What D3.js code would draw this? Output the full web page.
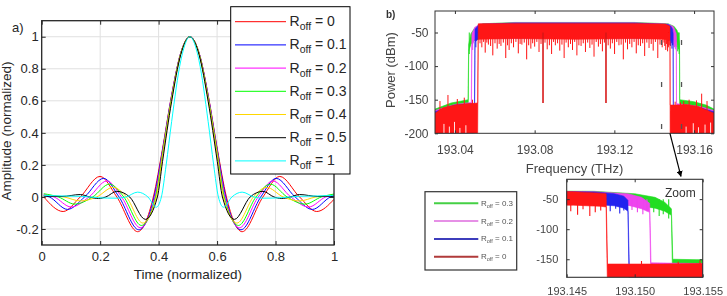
<!DOCTYPE html>
<html>
<head>
<meta charset="utf-8">
<script src="https://cdn.jsdelivr.net/npm/d3@7"></script>
<style>
  body { margin: 0; background: #fff; }
  svg  { display: block; font-family: "Liberation Sans", Arial, Helvetica, sans-serif; }
</style>
</head>
<body>
<svg id="fig" width="727" height="296"></svg>
<script>
// Panel a: pulse shapes for several roll-off factors (key points).
// Panel b: optical spectrum for 4 roll-offs, plus a zoom on the right band edge.

// ── Panel a data ─────────────────────────────────────────────────────────────

const PULSE_LABELS = ["0", "0.1", "0.2", "0.3", "0.4", "0.5", "1"];
const PULSE_COLORS = ["#ff0000", "#0000ff", "#ff00ff", "#00ff00", "#ffd700", "#000000", "#00ffff"];

// [time, amplitude]
const PULSE_R0 = [[.007,0],[.0733,-.091],[.132,0],[.1995,.128],[.257,0],[.3283,-.217],[.382,0],[.4133,.300],[.4445,.637],[.4758,.900],[.507,1],[.5383,.900],[.5695,.637],[.6008,.300],[.632,0],[.6858,-.217],[.757,0],[.8145,.128],[.882,0],[.9408,-.091],[1.0,-.015]];
const PULSE_R01 = [[.007,.01],[.0258,0],[.0883,-.078],[.147,0],[.212,.116],[.2645,0],[.332,-.205],[.3845,0],[.4133,.29],[.4445,.632],[.4758,.899],[.507,1],[.5383,.899],[.5695,.632],[.6008,.29],[.6295,0],[.682,-.205],[.7495,0],[.802,.116],[.867,0],[.9258,-.078],[.9883,0],[1.0,.008]];
const PULSE_R02 = [[.007,.015],[.042,0],[.1008,-.063],[.162,0],[.2233,.100],[.2733,0],[.337,-.192],[.387,0],[.4133,.28],[.4445,.627],[.4758,.897],[.507,1],[.5383,.897],[.5695,.627],[.6008,.28],[.627,0],[.677,-.192],[.7408,0],[.7908,.100],[.852,0],[.9133,-.063],[.972,0],[1.0,.013]];
const PULSE_R03 = [[.007,.02],[.057,0],[.1133,-.045],[.1745,0],[.232,.080],[.2808,0],[.3408,-.178],[.3895,0],[.4133,.27],[.4445,.62],[.4758,.895],[.507,1],[.5383,.895],[.5695,.62],[.6008,.27],[.6245,0],[.6733,-.178],[.7333,0],[.782,.080],[.8395,0],[.9008,-.045],[.957,0],[1.0,.018]];
const PULSE_R04 = [[.007,.01],[.0758,0],[.132,-.025],[.1883,0],[.2445,.060],[.2895,0],[.3458,-.163],[.392,0],[.4133,.255],[.4445,.612],[.4758,.893],[.507,1],[.5383,.893],[.5695,.612],[.6008,.255],[.622,0],[.6683,-.163],[.7245,0],[.7695,.060],[.8258,0],[.882,-.025],[.9383,0],[1.0,.01]];
const PULSE_R05 = [[.007,.005],[.0695,.003],[.132,.015],[.1633,0],[.1945,-.010],[.2195,0],[.257,.035],[.3008,0],[.3545,-.140],[.3958,0],[.4133,.22],[.4445,.596],[.4758,.888],[.507,1],[.5383,.888],[.5695,.596],[.6008,.22],[.6183,0],[.6595,-.140],[.7133,0],[.757,.035],[.7945,0],[.8195,-.010],[.8508,0],[.882,.015],[.9445,.003],[1.0,.005]];
const PULSE_R1 = [[.007,.01],[.0695,.006],[.132,.004],[.1945,-.005],[.257,-.008],[.2883,0],[.3283,.030],[.3633,0],[.392,-.064],[.4095,0],[.4258,.20],[.4445,.47],[.4758,.85],[.507,1],[.5383,.85],[.5695,.47],[.5883,.20],[.6045,0],[.622,-.064],[.6508,0],[.6858,.030],[.7258,0],[.757,-.008],[.8195,-.005],[.882,.004],[.9445,.006],[1.0,.01]];
const PULSES = [PULSE_R0, PULSE_R01, PULSE_R02, PULSE_R03, PULSE_R04, PULSE_R05, PULSE_R1];

const PULSE_X_TICKS = [0, 0.2, 0.4, 0.6, 0.8, 1];
const PULSE_Y_TICKS = [-0.2, 0, 0.2, 0.4, 0.6, 0.8, 1];

// ── Panel b data ─────────────────────────────────────────────────────────────

const SPEC_LABELS        = ["0.3", "0.2", "0.1", "0"];
const SPEC_COLORS        = ["#22dd22", "#ee44ee", "#2424ee", "#ff1414"];
const SPEC_LEGEND_COLORS = ["#44d044", "#e690e6", "#3c3cbc", "#b03a3a"];

// [freq THz, upper dBm, lower dBm]
const ENV_G = [[193.030,-164,-200],[193.038,-155,-200],[193.0466,-150,-200],[193.0469,-68,-78],[193.0480,-52,-68],[193.050,-43,-61],[193.054,-37,-58],[193.070,-35,-58],[193.130,-35,-58],[193.147,-37,-58],[193.150,-41,-60],[193.1515,-47,-65],[193.1522,-55,-70],[193.1527,-66,-77],[193.1528,-150,-200],[193.160,-153,-200],[193.166,-158,-200],[193.170,-164,-200]];
const ENV_M = [[193.030,-166,-200],[193.040,-157,-200],[193.0482,-154,-200],[193.0485,-52,-70],[193.0500,-42,-60],[193.053,-37.5,-58],[193.070,-35.5,-58],[193.130,-35.5,-58],[193.147,-37.5,-58],[193.1495,-41,-60],[193.1505,-47,-66],[193.1511,-57,-72],[193.1512,-156,-200],[193.158,-158,-200],[193.164,-161,-200],[193.170,-166,-200]];
const ENV_B = [[193.030,-168,-200],[193.040,-158,-200],[193.0498,-156,-200],[193.0501,-45,-64],[193.052,-38,-59],[193.070,-36,-58],[193.130,-36,-58],[193.147,-38,-59],[193.1485,-41,-61],[193.1492,-45,-65],[193.1495,-52,-70],[193.1496,-159,-200],[193.156,-159,-200],[193.163,-162,-200],[193.170,-168,-200]];
const ENV_R = [[193.030,-170,-200],[193.034,-162,-200],[193.040,-158,-200],[193.046,-156,-200],[193.0514,-155,-200],[193.0517,-37,-60],[193.070,-36.5,-59],[193.100,-36.5,-60],[193.130,-36.5,-59],[193.1455,-37.5,-60],[193.1475,-40,-62],[193.1479,-41,-63],[193.1480,-158,-200],[193.152,-158,-200],[193.156,-157,-200],[193.162,-160,-200],[193.170,-170,-200]];
const SPEC_ENVELOPES = [ENV_G, ENV_M, ENV_B, ENV_R];

// downward noise spikes inside the band: [freq, dBm]
const SPIKES_G = [[193.0472,-82],[193.1514,-72],[193.1518,-78],[193.1521,-75],[193.1525,-82]];
const SPIKES_M = [[193.0489,-76],[193.1498,-68],[193.1502,-72],[193.1506,-75],[193.1509,-70]];
const SPIKES_B = [[193.0505,-72],[193.1482,-70],[193.1486,-66],[193.1489,-74],[193.1492,-69]];
const SPIKES_R = [
  [193.0526,-66],[193.0535,-72],[193.0544,-64],[193.0552,-80],[193.0560,-65],[193.0568,-68],[193.0579,-70],[193.0590,-84],
  [193.0601,-66],[193.0612,-74],[193.0622,-67],[193.0631,-70],[193.0643,-65],[193.0655,-88],[193.0664,-69],[193.0672,-76],
  [193.0683,-66],[193.0694,-72],[193.0706,-64],[193.0718,-81],[193.0727,-67],[193.0736,-68],[193.0748,-65],[193.0760,-90],
  [193.0770,-69],[193.0781,-74],[193.0790,-66],[193.0800,-71],[193.0811,-64],[193.0822,-79],[193.0832,-67],[193.0852,-65],
  [193.0863,-75],[193.0874,-69],[193.0885,-82],[193.0895,-64],[193.0904,-69],[193.0915,-66],[193.0926,-77],[193.0937,-68],
  [193.0948,-88],[193.0958,-65],[193.0969,-72],[193.0980,-67],[193.0990,-76],[193.1001,-64],[193.1012,-84],[193.1022,-69],
  [193.1033,-70],[193.1044,-66],[193.1055,-79],[193.1066,-65],[193.1077,-73],[193.1088,-68],[193.1098,-86],[193.1109,-64],
  [193.1120,-71],[193.1130,-67],[193.1140,-78],[193.1150,-65],[193.1169,-69],[193.1180,-74],[193.1190,-66],[193.1201,-82],
  [193.1212,-64],[193.1223,-69],[193.1234,-68],[193.1245,-90],[193.1256,-65],[193.1266,-75],[193.1277,-67],[193.1288,-72],
  [193.1299,-64],[193.1310,-81],[193.1320,-69],[193.1331,-70],[193.1342,-66],[193.1352,-85],[193.1363,-65],[193.1374,-73],
  [193.1385,-67],[193.1395,-77],[193.1406,-64],[193.1418,-88],[193.1429,-68],[193.1440,-72],[193.1449,-65],[193.1453,-70],
  [193.1458,-76],[193.1462,-67],[193.1467,-78],[193.1471,-72],[193.1475,-69]];
const SPEC_SPIKES = [SPIKES_G, SPIKES_M, SPIKES_B, SPIKES_R];

const NOTCHES       = [[193.0842,-155],[193.1158,-155]];
const FLOOR_SPIKES  = [[193.0325,-152],[193.0365,-143],[193.0412,-149],[193.0447,-147],[193.0488,-150],[193.1505,-153],[193.1532,-154],[193.1548,-152],[193.1575,-150],[193.1612,-151],[193.1638,-141],[193.1665,-152]];
const FLOOR_GAPS    = [[193.0345,-186],[193.0372,-190],[193.0398,-183],[193.0425,-192],[193.0455,-188],[193.1560,-190],[193.1596,-185],[193.1622,-191],[193.1655,-187],[193.1683,-184]];
const ZOOM_MARKS    = [193.1437, 193.1537];

const SPEC_X_TICKS  = [193.04, 193.08, 193.12, 193.16];
const SPEC_Y_TICKS  = [-50, -100, -150, -200];
const ZOOM_X_TICKS  = [193.145, 193.150, 193.155];
const ZOOM_Y_TICKS  = [-50, -100, -150];

// ── Setup ────────────────────────────────────────────────────────────────────

const svg  = d3.select("#fig");
const defs = svg.append("defs");
const INK  = "#262626";
const FONT = '"Liberation Sans", Arial, Helvetica, sans-serif';

function clip(id, x0, y0, x1, y1) {
  defs.append("clipPath").attr("id", id).append("rect")
    .attr("x", x0).attr("y", y0).attr("width", x1 - x0).attr("height", y1 - y0);
}

function roff(text, value, subSize, dy) {
  text.append("tspan").text("R");
  text.append("tspan").attr("font-size", subSize).attr("dy", dy).text("off");
  text.append("tspan").attr("dy", -dy).text(` = ${value}`);
}

// inward ticks on all four sides, labels on bottom/left only
function boxAxes(g, x, y, o) {
  const [x0, x1] = x.range(), [y1, y0] = y.range();
  const style = ax => ax.call(a => a.select(".domain").remove())
    .attr("font-family", FONT).attr("font-size", o.size)
    .call(a => a.selectAll(".tick line").attr("stroke", o.ink))
    .call(a => a.selectAll(".tick text").attr("fill", o.text));

  g.append("g").attr("transform", `translate(0,${y1})`)
    .call(d3.axisBottom(x).tickValues(o.xt).tickSizeInner(-o.tick).tickSizeOuter(0).tickPadding(o.xpad).tickFormat(o.xf))
    .call(style);
  g.append("g").attr("transform", `translate(0,${y0})`)
    .call(d3.axisTop(x).tickValues(o.xt).tickSizeInner(-o.tick).tickSizeOuter(0).tickFormat(""))
    .call(style);
  g.append("g").attr("transform", `translate(${x0},0)`)
    .call(d3.axisLeft(y).tickValues(o.yt).tickSizeInner(-o.tick).tickSizeOuter(0).tickPadding(o.ypad).tickFormat(o.yf))
    .call(style);
  g.append("g").attr("transform", `translate(${x1},0)`)
    .call(d3.axisRight(y).tickValues(o.yt).tickSizeInner(-o.tick).tickSizeOuter(0).tickFormat(""))
    .call(style);
  g.append("rect").attr("x", x0).attr("y", y0).attr("width", x1 - x0).attr("height", y1 - y0)
    .attr("fill", "none").attr("stroke", o.ink).attr("stroke-width", o.box);
}

// ── Panel a ──────────────────────────────────────────────────────────────────

const xA = d3.scaleLinear().domain([0, 1]).range([41.7, 334]);
const yA = d3.scaleLinear().domain([-0.3, 1.1]).range([245, 20.7]);
clip("clipA", 41.7, 20.7, 334, 245);

const gA = svg.append("g");

gA.append("g").selectAll("line").data(PULSE_X_TICKS.slice(1, -1)).join("line")
  .attr("x1", d => xA(d)).attr("x2", d => xA(d)).attr("y1", yA.range()[0]).attr("y2", yA.range()[1])
  .attr("stroke", "#e0e0e0");
gA.append("g").selectAll("line").data(PULSE_Y_TICKS).join("line")
  .attr("x1", xA.range()[0]).attr("x2", xA.range()[1]).attr("y1", d => yA(d)).attr("y2", d => yA(d))
  .attr("stroke", "#e0e0e0");

const lineA = d3.line().x(d => xA(d[0])).y(d => yA(d[1])).curve(d3.curveMonotoneX);
gA.append("g").attr("clip-path", "url(#clipA)")
  .selectAll("path").data(PULSES).join("path")
  .attr("d", lineA).attr("fill", "none")
  .attr("stroke", (d, i) => PULSE_COLORS[i]).attr("stroke-width", 1);

boxAxes(gA, xA, yA, {
  xt: PULSE_X_TICKS, yt: PULSE_Y_TICKS, xf: d => String(d), yf: d => String(d),
  size: 13, tick: 4, xpad: 7, ypad: 3, ink: INK, text: INK, box: 1.3,
});

gA.append("text").attr("x", xA(0.5)).attr("y", 279).attr("text-anchor", "middle")
  .attr("font-size", 13.5).attr("fill", INK).text("Time (normalized)");
gA.append("text").attr("transform", "translate(11,131) rotate(-90)").attr("text-anchor", "middle")
  .attr("font-size", 13.5).attr("fill", INK).text("Amplitude (normalized)");
gA.append("text").attr("x", 12).attr("y", 32).attr("font-size", 13).attr("fill", INK).text("a)");

// legend
const legA = gA.append("g");
legA.append("rect").attr("x", 230.7).attr("y", 6.7).attr("width", 119.3).attr("height", 167.3)
  .attr("fill", "#fff").attr("stroke", "#000").attr("stroke-width", 1);
PULSE_LABELS.forEach((lab, i) => {
  const y = 21.7 + 23.2 * i;
  legA.append("line").attr("x1", 235).attr("x2", 286).attr("y1", y).attr("y2", y)
    .attr("stroke", PULSE_COLORS[i]).attr("stroke-width", 1);
  legA.append("text").attr("x", 289.5).attr("y", y + 4.5).attr("font-size", 14).attr("fill", INK)
    .call(t => roff(t, lab, 10.5, 4));
});

// ── Panel b ──────────────────────────────────────────────────────────────────

defs.append("filter").attr("id", "soft").append("feGaussianBlur").attr("stdDeviation", 0.55);
defs.append("marker").attr("id", "arrow").attr("viewBox", "0 0 10 10")
  .attr("refX", 9).attr("refY", 5).attr("markerWidth", 6).attr("markerHeight", 6)
  .attr("markerUnits", "userSpaceOnUse").attr("orient", "auto")
  .append("path").attr("d", "M0,0 L10,5 L0,10 z").attr("fill", "#000");

const gB = svg.append("g").attr("filter", "url(#soft)");
const TXT = "#444";

function drawSpectrum(g, x, y, clipId, w) {
  const area = d3.area().x(d => x(d[0])).y0(d => y(d[2])).y1(d => y(d[1]));
  const body = g.append("g").attr("clip-path", `url(#${clipId})`);
  SPEC_ENVELOPES.forEach((env, i) => {
    body.append("path").attr("d", area(env)).attr("fill", SPEC_COLORS[i])
      .attr("stroke", SPEC_COLORS[i]).attr("stroke-width", 0.6);
    body.append("g").selectAll("line").data(SPEC_SPIKES[i]).join("line")
      .attr("x1", d => x(d[0])).attr("x2", d => x(d[0]))
      .attr("y1", y(-50)).attr("y2", d => y(d[1]))
      .attr("stroke", SPEC_COLORS[i]).attr("stroke-width", w);
  });
  const red = SPEC_COLORS[3];
  body.append("g").selectAll("line").data(NOTCHES).join("line")
    .attr("x1", d => x(d[0])).attr("x2", d => x(d[0])).attr("y1", y(-50)).attr("y2", d => y(d[1]))
    .attr("stroke", "#d81818").attr("stroke-width", 1.6);
  body.append("g").selectAll("line").data(FLOOR_SPIKES).join("line")
    .attr("x1", d => x(d[0])).attr("x2", d => x(d[0])).attr("y1", y(-200)).attr("y2", d => y(d[1]))
    .attr("stroke", red).attr("stroke-width", w);
  body.append("g").selectAll("line").data(FLOOR_GAPS).join("line")
    .attr("x1", d => x(d[0])).attr("x2", d => x(d[0])).attr("y1", y(-200)).attr("y2", d => y(d[1]))
    .attr("stroke", "#fff").attr("stroke-width", 0.9);
  return body;
}

// main spectrum
const xB = d3.scaleLinear().domain([193.03, 193.17]).range([435, 714]);
const yB = d3.scaleLinear().domain([-200, -18]).range([133.3, 11]);
clip("clipB", 435, 11, 714, 133.3);

const mainB = drawSpectrum(gB, xB, yB, "clipB", 1);
mainB.append("g").selectAll("line").data(ZOOM_MARKS).join("line")
  .attr("x1", d => xB(d)).attr("x2", d => xB(d)).attr("y1", 40).attr("y2", yB(-200))
  .attr("stroke", "#555").attr("stroke-width", 1.3).attr("stroke-dasharray", "5,37");

boxAxes(gB, xB, yB, {
  xt: SPEC_X_TICKS, yt: SPEC_Y_TICKS, xf: d3.format(".2f"), yf: d => String(d),
  size: 12, tick: 3, xpad: 12, ypad: 6.5, ink: "#333", text: TXT, box: 1,
});
gB.append("text").attr("x", d3.mean(xB.range())).attr("y", 173).attr("text-anchor", "middle")
  .attr("font-size", 13).attr("fill", TXT).text("Frequency (THz)");
gB.append("text").attr("transform", "translate(395,70) rotate(-90)").attr("text-anchor", "middle")
  .attr("font-size", 13).attr("fill", TXT).text("Power (dBm)");
gB.append("text").attr("x", 386).attr("y", 18).attr("font-size", 10).attr("font-weight", "bold")
  .attr("fill", "#333").text("b)");

// zoom inset
const xI = d3.scaleLinear().domain([193.145, 193.155]).range([566.7, 702.7]);
const yI = d3.scaleLinear().domain([-180, -17]).range([277.3, 179.3]);
clip("clipI", 566.7, 179.3, 702.7, 277.3);

drawSpectrum(gB, xI, yI, "clipI", 1.1);
boxAxes(gB, xI, yI, {
  xt: ZOOM_X_TICKS, yt: ZOOM_Y_TICKS, xf: d3.format(".3f"), yf: d => String(d),
  size: 11, tick: 3, xpad: 10, ypad: 8.4, ink: "#333", text: TXT, box: 1.1,
});
gB.append("text").attr("x", xI.range()[1] - 7).attr("y", yI.range()[1] + 18).attr("text-anchor", "end")
  .attr("font-size", 12).attr("fill", "#333").text("Zoom");

// arrow from the band edge down to the inset
gB.append("line")
  .attr("x1", xB(193.1479)).attr("y1", yB(-200))
  .attr("x2", xI(193.1534)).attr("y2", yI.range()[1] - 3)
  .attr("stroke", "#000").attr("stroke-width", 1.2).attr("marker-end", "url(#arrow)");

// inset legend
const legB = gB.append("g");
legB.append("rect").attr("x", 425).attr("y", 191.7).attr("width", 91.7).attr("height", 78.3)
  .attr("fill", "#fff").attr("stroke", "#333").attr("stroke-width", 1.2);
SPEC_LABELS.forEach((lab, i) => {
  const y = 203.3 + 17.8 * i;
  legB.append("line").attr("x1", 434).attr("x2", 478.3).attr("y1", y).attr("y2", y)
    .attr("stroke", SPEC_LEGEND_COLORS[i]).attr("stroke-width", 2);
  legB.append("text").attr("x", 481).attr("y", y + 2.5).attr("font-size", 8).attr("fill", "#555")
    .call(t => roff(t, lab, 5.5, 2));
});
</script>
</body>
</html>
